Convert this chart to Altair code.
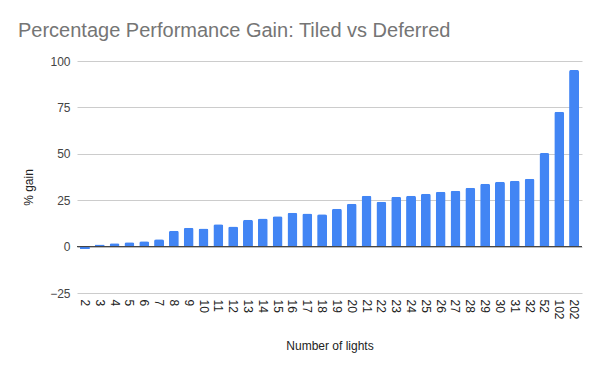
import altair as alt
import pandas as pd

lights = ["2", "3", "4", "5", "6", "7", "8", "9", "10", "11", "12", "13", "14", "15", "16", "17",
          "18", "19", "20", "21", "22", "23", "24", "25", "26", "27", "28", "29", "30", "31", "32",
          "52", "102", "202"]
gain = [-1.3, 1.1, 1.8, 2.3, 2.9, 3.9, 8.6, 10.2, 9.7, 12.0, 10.8, 14.5, 15.1, 16.3, 18.3, 17.9,
        17.4, 20.4, 23.1, 27.4, 24.2, 26.9, 27.4, 28.5, 29.6, 30.1, 31.7, 33.9, 34.9, 35.5, 36.6,
        50.4, 72.6, 95.2]
y_ticks = [-25, 0, 25, 50, 75, 100]

df = pd.DataFrame({"lights": lights, "gain": gain})
zero = pd.DataFrame({"z": [0]})

FONT = "Liberation Sans"

x_enc = alt.X("lights:N", sort=lights,
              scale=alt.Scale(paddingInner=0.33, paddingOuter=0.2),
              axis=alt.Axis(title="Number of lights", labelAngle=90, labelFontSize=12,
                            labelColor="#222222", labelFont=FONT, ticks=False, domain=False,
                            labelPadding=6, titleFont=FONT, titleFontSize=12,
                            titleFontWeight="normal", titleColor="#222222", titlePadding=21))

bars = alt.Chart(df).mark_bar(color="#4285F4", cornerRadiusEnd=2).encode(
    x=x_enc,
    y=alt.Y("gain:Q", scale=alt.Scale(domain=[-25, 100], nice=False),
            axis=alt.Axis(title="% gain", values=y_ticks, grid=True, gridColor="#cccccc",
                          domain=False, ticks=False, labelFontSize=12, labelColor="#444444",
                          labelFont=FONT, labelPadding=7, titleFont=FONT, titleFontSize=12,
                          titleFontWeight="normal", titleColor="#222222", titlePadding=14,
                          titleY=126)),
)

rule = alt.Chart(zero).mark_rule(color="#333333", strokeWidth=1).encode(y="z:Q")

chart = alt.layer(bars, rule).properties(
    width=505,
    height=232,
    autosize=alt.AutoSizeParams(type="none"),
    padding={"left": 69, "top": 53, "right": 10, "bottom": 70},
    title=alt.TitleParams("Percentage Performance Gain: Tiled vs Deferred", anchor="start",
                          frame="group", dx=-59, dy=-10, font=FONT, fontSize=20,
                          fontWeight="normal", color="#757575"),
).configure_view(stroke=None)

chart.save("out.html", embed_options={"renderer": "svg", "actions": False})
